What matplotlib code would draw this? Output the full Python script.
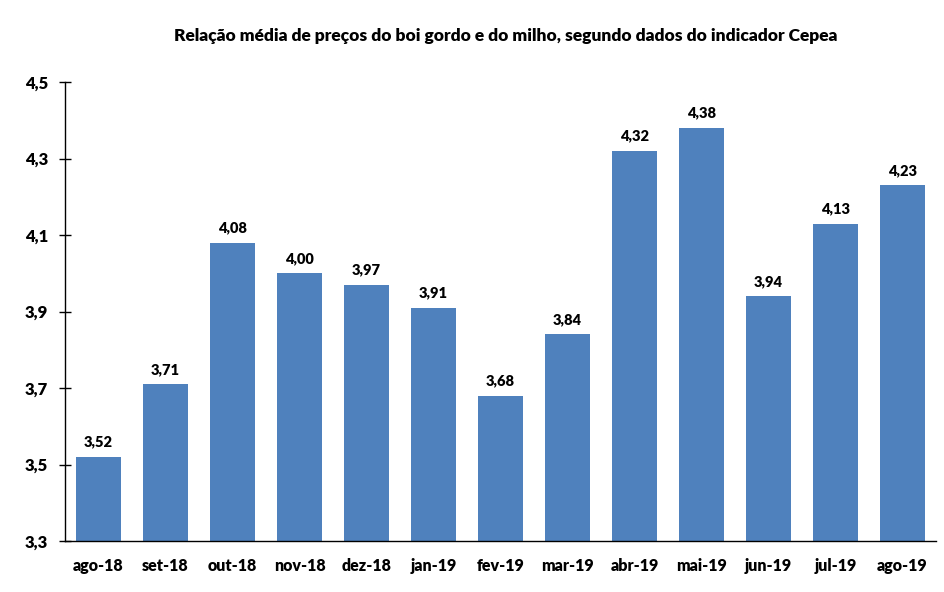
import numpy as np
import matplotlib
matplotlib.use('Agg')
import matplotlib.pyplot as plt

plt.rcParams['font.family'] = ['Lato', 'DejaVu Sans']
plt.rcParams['font.weight'] = 'bold'

meses = ['ago-18', 'set-18', 'out-18', 'nov-18', 'dez-18', 'jan-19', 'fev-19',
         'mar-19', 'abr-19', 'mai-19', 'jun-19', 'jul-19', 'ago-19']
relacao = [3.52, 3.71, 4.08, 4.00, 3.97, 3.91, 3.68, 3.84, 4.32, 4.38, 3.94, 4.13, 4.23]
yticks = [3.3, 3.5, 3.7, 3.9, 4.1, 4.3, 4.5]

fig = plt.figure(figsize=(9.45, 5.92), dpi=100)
ax = fig.add_axes([0.0688, 0.0861, 0.9217, 0.7753])

x = np.arange(len(meses))
ax.bar(x, relacao, width=0.67, color='#4F81BD', zorder=2)

# rótulos de valor acima das barras
for xi, v in zip(x, relacao):
    ax.annotate(f'{v:.2f}'.replace('.', ','), (xi, v), xytext=(0, 6),
                textcoords='offset points', ha='center', va='bottom',
                fontsize=10.5, fontweight='heavy')

ax.set_xlim(-0.5, len(meses) - 0.5)
ax.set_ylim(3.3, 4.5)
ax.set_yticks(yticks)
ax.set_yticklabels([f'{t:.1f}'.replace('.', ',') for t in yticks], fontsize=12, fontweight='heavy')
ax.set_xticks(x)
ax.set_xticklabels(meses, fontsize=11.5, fontweight='heavy')
ax.tick_params(axis='x', length=0, pad=12)
ax.tick_params(axis='y', direction='inout', length=8, width=1, pad=8)

for s in ['top', 'right']:
    ax.spines[s].set_visible(False)
ax.spines['left'].set_linewidth(1)
ax.spines['bottom'].set_linewidth(1)

fig.text(0.535, 0.94, 'Relação média de preços do boi gordo e do milho, segundo dados do indicador Cepea',
         ha='center', va='center', fontsize=12.5, fontweight='heavy')

fig.savefig('out.png', dpi=100)
